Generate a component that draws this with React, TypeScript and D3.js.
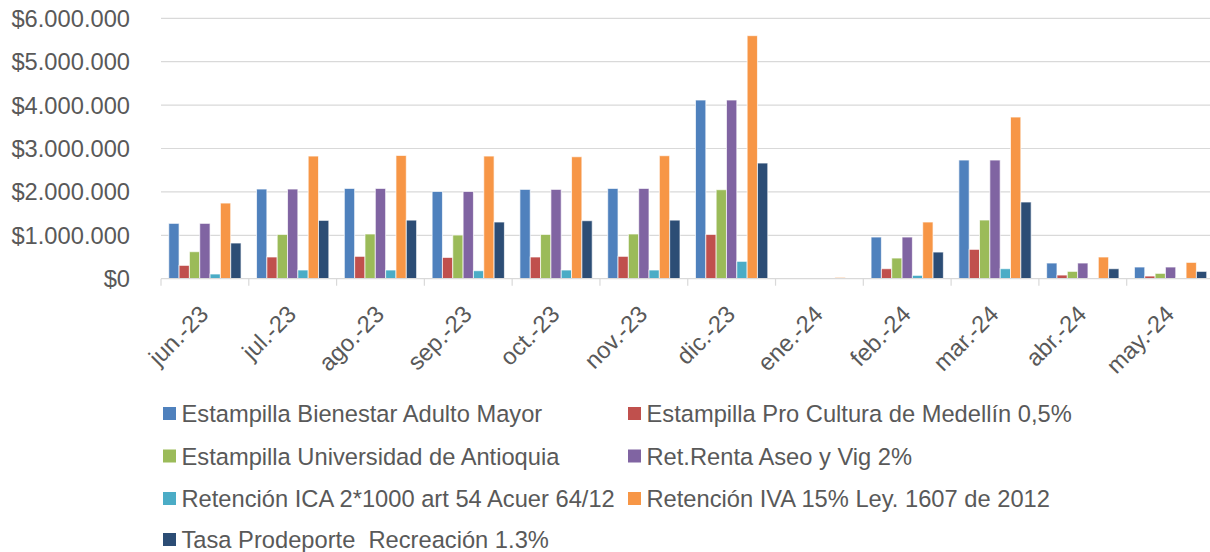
import React, { useEffect, useRef } from 'react';
import * as d3 from 'd3';

const months = [
  'jun.-23', 'jul.-23', 'ago.-23', 'sep.-23', 'oct.-23', 'nov.-23',
  'dic.-23', 'ene.-24', 'feb.-24', 'mar.-24', 'abr.-24', 'may.-24',
];

const seriesNames = [
  'Estampilla Bienestar Adulto Mayor',
  'Estampilla Pro Cultura de Medellín 0,5%',
  'Estampilla Universidad de Antioquia',
  'Ret.Renta Aseo y Vig 2%',
  'Retención ICA 2*1000 art 54 Acuer 64/12',
  'Retención IVA 15% Ley. 1607 de 2012',
  'Tasa Prodeporte  Recreación 1.3%',
];

const seriesColors = ['#4F81BD', '#C0504D', '#9BBB59', '#8064A2', '#4BACC6', '#F79646', '#2C4D75'];

const bienestar = [1275000, 2066000, 2080000, 2010000, 2058000, 2080000, 4117000, 15000, 960000, 2734000, 361000, 269000];
const proCultura = [307000, 500000, 515000, 490000, 500000, 515000, 1020000, 5000, 230000, 676000, 84000, 61000];
const universidad = [622000, 1020000, 1030000, 1006000, 1020000, 1030000, 2050000, 5000, 476000, 1352000, 169000, 123000];
const retRenta = [1275000, 2066000, 2080000, 2010000, 2058000, 2080000, 4117000, 15000, 960000, 2734000, 361000, 269000];
const retIca = [108000, 200000, 200000, 184000, 200000, 200000, 400000, 3000, 77000, 230000, 15000, 15000];
const retIva = [1743000, 2826000, 2840000, 2826000, 2810000, 2834000, 5600000, 30000, 1306000, 3725000, 500000, 376000];
const prodeporte = [822000, 1344000, 1350000, 1306000, 1336000, 1350000, 2665000, 5000, 614000, 1767000, 230000, 169000];

const seriesValues = [bienestar, proCultura, universidad, retRenta, retIca, retIva, prodeporte];

const yTicks = [0, 1000000, 2000000, 3000000, 4000000, 5000000, 6000000];

const W = 1210;
const H = 552;
const FONT = 'Arial, "Liberation Sans", sans-serif';
const TEXT = '#595959';
const FS = 23.7;

const fmtMoney = (v: number) =>
  '$' + Math.round(v).toString().replace(/\B(?=(\d{3})+(?!\d))/g, '.');

export default function App() {
  const svgRef = useRef<SVGSVGElement | null>(null);

  useEffect(() => {
    if (!svgRef.current) return;
    const svg = d3.select(svgRef.current);
    svg.selectAll('*').remove();

    const left = 161;
    const step = 87.79;
    const top = 18.3;
    const bottom = 278.7;

    const x0 = d3.scaleBand<string>().domain(months).range([left, left + step * months.length]).padding(0);
    const x1 = d3
      .scaleBand<string>()
      .domain(seriesNames)
      .range([0, x0.bandwidth()])
      .paddingInner(0)
      .paddingOuter(0.75);
    const y = d3.scaleLinear().domain([0, 6000000]).range([bottom, top]);

    // gridlines
    svg
      .append('g')
      .selectAll('line')
      .data(yTicks.slice(1))
      .enter()
      .append('line')
      .attr('x1', left)
      .attr('x2', W)
      .attr('y1', (d) => y(d))
      .attr('y2', (d) => y(d))
      .attr('stroke', '#d9d9d9')
      .attr('stroke-width', 1.2);

    // y labels
    svg
      .append('g')
      .selectAll('text')
      .data(yTicks)
      .enter()
      .append('text')
      .attr('x', 130)
      .attr('y', (d) => y(d) + 8.4)
      .attr('text-anchor', 'end')
      .attr('font-family', FONT)
      .attr('font-size', FS)
      .attr('fill', TEXT)
      .text((d) => fmtMoney(d));

    // bars
    const groups = svg
      .append('g')
      .selectAll('g')
      .data(months)
      .enter()
      .append('g')
      .attr('transform', (d) => `translate(${x0(d)},0)`);

    groups
      .selectAll('rect')
      .data((m, i) => seriesNames.map((s, k) => ({ s, k, v: seriesValues[k][i] })))
      .enter()
      .append('rect')
      .attr('x', (d) => x1(d.s) || 0)
      .attr('width', x1.bandwidth())
      .attr('y', (d) => y(d.v))
      .attr('height', (d) => y(0) - y(d.v))
      .attr('fill', (d) => seriesColors[d.k])
      .attr('stroke', '#ffffff')
      .attr('stroke-opacity', 0.7)
      .attr('stroke-width', 1);

    // x axis line and ticks
    const axis = svg.append('g');
    axis
      .append('line')
      .attr('x1', left)
      .attr('x2', W)
      .attr('y1', bottom)
      .attr('y2', bottom)
      .attr('stroke', '#d9d9d9')
      .attr('stroke-width', 1.2);
    axis
      .selectAll('.tick')
      .data(months)
      .enter()
      .append('line')
      .attr('class', 'tick')
      .attr('x1', (d) => x0(d) || 0)
      .attr('x2', (d) => x0(d) || 0)
      .attr('y1', bottom)
      .attr('y2', bottom + 7)
      .attr('stroke', '#d9d9d9')
      .attr('stroke-width', 1.2);

    // x labels rotated
    axis
      .selectAll('.xl')
      .data(months)
      .enter()
      .append('text')
      .attr('class', 'xl')
      .attr('transform', (d) => `translate(${(x0(d) || 0) + step / 2 + 5},${bottom + 37}) rotate(-45)`)
      .attr('text-anchor', 'end')
      .attr('font-family', FONT)
      .attr('font-size', FS)
      .attr('fill', TEXT)
      .text((d) => d);

    // legend
    const colX = [163, 628];
    const rowY = [422, 464.5, 507, 548];
    const legend = svg
      .append('g')
      .selectAll('g')
      .data(seriesNames)
      .enter()
      .append('g')
      .attr('transform', (d, i) => `translate(${colX[i % 2]},${rowY[Math.floor(i / 2)]})`);
    legend
      .append('rect')
      .attr('x', 0)
      .attr('y', -15)
      .attr('width', 13)
      .attr('height', 13)
      .attr('fill', (d, i) => seriesColors[i]);
    legend
      .append('text')
      .attr('x', 18.5)
      .attr('y', 0)
      .attr('font-family', FONT)
      .attr('font-size', FS)
      .attr('fill', TEXT)
      .style('white-space', 'pre')
      .text((d) => d);
  }, []);

  return (
    <div style={{ position: 'fixed', left: 0, top: 0, width: W, height: H, background: '#fff' }}>
      <svg ref={svgRef} width={W} height={H} style={{ display: 'block' }} />
    </div>
  );
}
